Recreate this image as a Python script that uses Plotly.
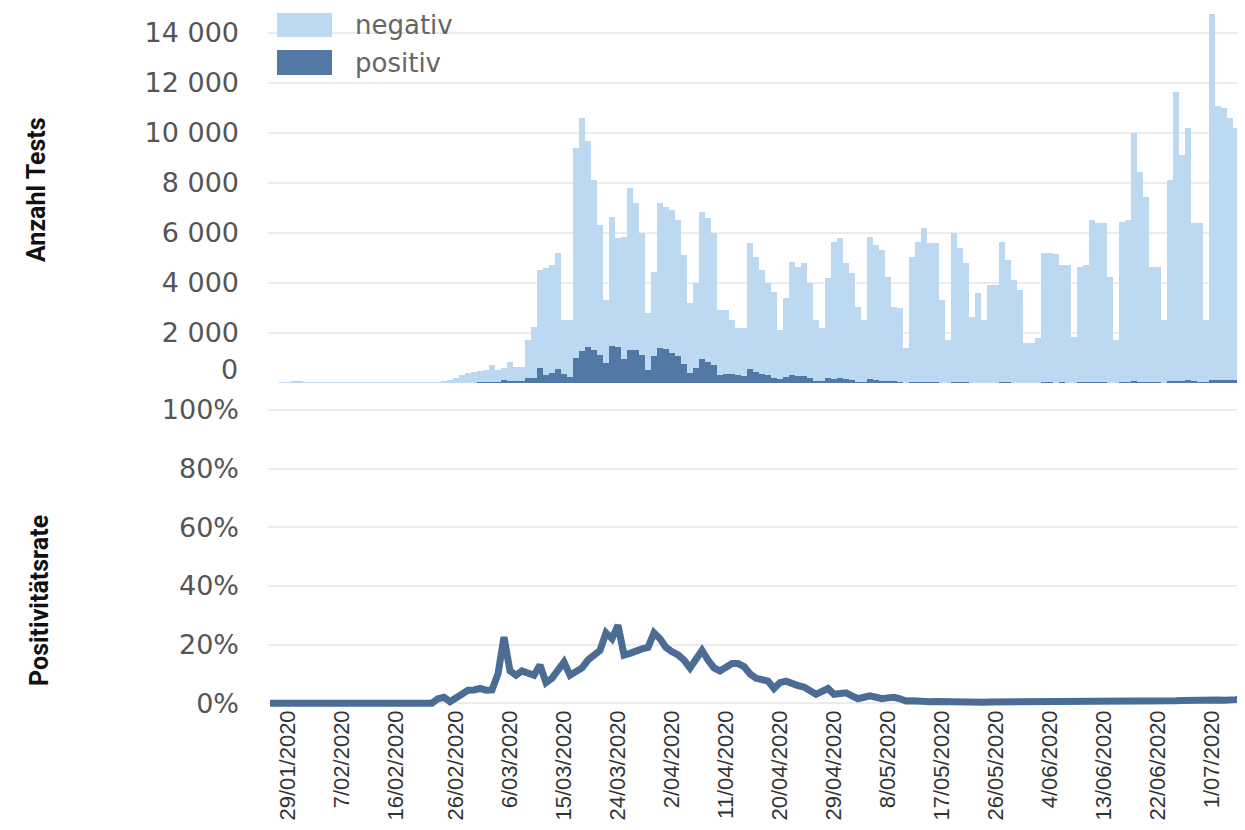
import pandas as pd
import plotly.graph_objects as go

# ---------------- data ----------------
start_date = "2020-01-26"

negativ = [
    0, 0, 5, 10, 40, 60, 30, 20, 10, 15,
    10, 15, 10, 5, 5, 10, 15, 10, 10, 15,
    5, 5, 10, 15, 15, 20, 15, 20, 29, 39,
    119, 196, 291, 363, 401, 456, 478, 688, 450, 450,
    760, 560, 580, 1520, 2040, 3920, 4280, 4300, 4630, 2150,
    2260, 8410, 9330, 8280, 6800, 5170, 2510, 5190, 4350, 4890,
    6470, 5900, 4900, 2270, 3380, 5800, 5710, 5700, 5430, 4350,
    2820, 3400, 5900, 5750, 5280, 2580, 2540, 2160, 1900, 1925,
    5040, 4620, 4140, 3700, 3470, 1950, 3145, 4535, 4370, 4530,
    3820, 2425, 2110, 3990, 5480, 5615, 4630, 4290, 3005, 2450,
    5705, 5390, 5220, 4175, 2990, 2955, 1390, 5010, 5615, 6160,
    5570, 5570, 3285, 1690, 5970, 5375, 4780, 2640, 3585, 2492,
    3885, 3885, 5625, 4880, 4082, 3685, 1595, 1592, 1794, 5180,
    5178, 5132, 4680, 4682, 1842, 4630, 4678, 6470, 6372, 6375,
    4235, 1692, 6415, 6460, 9940, 8400, 7405, 4625, 4620, 2485,
    8030, 11560, 9020, 10100, 6340, 6345, 2480, 14620, 10980, 10890,
    10500, 10100, 5340,
]

positiv = [
    0, 0, 0, 0, 0, 0, 0, 0, 0, 0,
    0, 0, 0, 0, 0, 0, 0, 0, 0, 0,
    0, 0, 0, 0, 0, 0, 0, 0, 1, 1,
    1, 4, 9, 17, 19, 24, 22, 32, 50, 130,
    90, 60, 70, 180, 210, 580, 320, 400, 570, 350,
    240, 990, 1270, 1420, 1300, 1130, 790, 1460, 1450, 960,
    1330, 1300, 1100, 530, 1070, 1400, 1340, 1200, 1070, 750,
    380, 600, 950, 850, 720, 320, 360, 340, 300, 275,
    560, 430, 360, 300, 180, 150, 255, 315, 280, 260,
    180, 75, 90, 210, 170, 185, 170, 110, 45, 50,
    145, 110, 80, 75, 60, 45, 10, 40, 35, 40,
    30, 30, 15, 10, 30, 25, 20, 10, 15, 8,
    15, 15, 25, 20, 18, 15, 5, 8, 6, 20,
    22, 18, 20, 18, 8, 20, 22, 30, 28, 25,
    15, 8, 35, 40, 60, 50, 45, 25, 30, 15,
    70, 90, 80, 100, 60, 55, 20, 130, 120, 110,
    100, 100, 60,
]

rate = [
    0, 0, 0, 0, 0, 0, 0, 0, 0, 0,
    0, 0, 0, 0, 0, 0, 0, 0, 0, 0,
    0, 0, 0, 0, 0, 0, 0, 0, 1.5, 2,
    0.5, 2, 3, 4.4, 4.5, 5, 4.4, 4.5, 10, 22.5,
    11, 9.5, 11, 10.5, 9.5, 13, 7, 8.5, 11, 14,
    9.5, 10.5, 12, 14.7, 16, 18, 24, 22, 26.6, 16.4,
    17, 18, 18.5, 19, 24, 22, 19, 17.5, 16.5, 14.7,
    12, 15, 18, 14.7, 12, 11, 12.5, 13.5, 13.5, 12.5,
    10, 8.5, 8, 7.5, 5, 7, 7.5, 6.5, 6, 5.5,
    4.5, 3, 4, 5, 3, 3.2, 3.5, 2.5, 1.5, 2,
    2.5, 2, 1.5, 1.8, 2, 1.5, 0.7, 0.8, 0.6, 0.6,
    0.5, 0.6, 0.5, 0.6, 0.5, 0.5, 0.4, 0.4, 0.4, 0.3,
    0.4, 0.4, 0.4, 0.4, 0.4, 0.4, 0.3, 0.5, 0.3, 0.4,
    0.4, 0.3, 0.4, 0.4, 0.4, 0.4, 0.5, 0.5, 0.4, 0.4,
    0.4, 0.5, 0.5, 0.6, 0.6, 0.6, 0.6, 0.5, 0.6, 0.6,
    0.8, 0.8, 0.9, 1.0, 0.9, 0.9, 0.8, 0.9, 1.1, 1.0,
    1.0, 1.2, 1.6,
]

tick_dates = ["2020-01-29", "2020-02-07", "2020-02-16", "2020-02-26", "2020-03-06",
              "2020-03-15", "2020-03-24", "2020-04-02", "2020-04-11", "2020-04-20",
              "2020-04-29", "2020-05-08", "2020-05-17", "2020-05-26", "2020-06-04",
              "2020-06-13", "2020-06-22", "2020-07-01"]
tick_labels = ["29/01/2020", "7/02/2020", "16/02/2020", "26/02/2020", "6/03/2020",
               "15/03/2020", "24/03/2020", "2/04/2020", "11/04/2020", "20/04/2020",
               "29/04/2020", "8/05/2020", "17/05/2020", "26/05/2020", "4/06/2020",
               "13/06/2020", "22/06/2020", "1/07/2020"]

count_ticks = [0, 2000, 4000, 6000, 8000, 10000, 12000, 14000]
count_tick_labels = ["", "2 000", "4 000", "6 000", "8 000", "10 000", "12 000", "14 000"]
count_zero_label = "0"
rate_ticks = [0, 20, 40, 60, 80, 100]
rate_tick_labels = ["0%", "20%", "40%", "60%", "80%", "100%"]

dates = pd.date_range(start_date, periods=len(negativ), freq="D")

# ---------------- styles ----------------
LIGHT = "#bcd9f1"
DARK = "#5279a6"
LINE = "#4a6c95"
GRID = "#ececec"
TICK_FONT = dict(family="DejaVu Sans", size=27, color="#555555")
TITLE_FONT = dict(family="Liberation Sans Narrow, Roboto, sans-serif", size=25, color="#111111",
                  weight="bold")

fig = go.Figure()

fig.add_trace(go.Bar(x=dates, y=positiv, name="positiv", marker=dict(color=DARK, line=dict(width=0)),
                     xaxis="x2", yaxis="y2", showlegend=False))
fig.add_trace(go.Bar(x=dates, y=negativ, name="negativ", marker=dict(color=LIGHT, line=dict(width=0)),
                     xaxis="x2", yaxis="y2", showlegend=False))
fig.add_trace(go.Scatter(x=dates, y=rate, mode="lines", line=dict(color=LINE, width=7),
                         xaxis="x", yaxis="y", showlegend=False))

x_range = ["2020-01-25 16:00", "2020-07-06 12:00"]

# page body has an 8px margin, so the figure is 8px smaller and margins shifted accordingly
fig.update_layout(
    template="none",
    width=1237, height=822,
    margin=dict(l=260, r=0, t=2, b=121),
    paper_bgcolor="white", plot_bgcolor="white",
    barmode="stack", bargap=0.08,
    separators=", ",
    xaxis=dict(domain=[0, 1], anchor="y", type="date", range=x_range, automargin=False,
               tickmode="array", tickvals=tick_dates, ticktext=tick_labels,
               tickangle=-90, tickfont=dict(family="Liberation Sans, Arial", size=22, color="#333333"),
               showgrid=False, zeroline=False, showline=False, ticks="", ticklabelstandoff=-4),
    xaxis2=dict(domain=[0, 1], anchor="y2", type="date", matches="x", range=x_range, automargin=False,
                showticklabels=False, showgrid=False, zeroline=False, showline=False, ticks=""),
    yaxis=dict(domain=[0, 0.432], anchor="x", range=[-2, 101], tickmode="array", automargin=False,
               tickvals=rate_ticks, ticktext=rate_tick_labels, tickfont=TICK_FONT,
               showgrid=True, gridcolor=GRID, gridwidth=1.5, zeroline=False, showline=False,
               ticks="", ticklabelstandoff=28),
    yaxis2=dict(domain=[0.4664, 1], anchor="x2", range=[0, 14920], tickmode="array", automargin=False,
                tickvals=count_ticks, ticktext=count_tick_labels, tickfont=TICK_FONT,
                showgrid=True, gridcolor=GRID, gridwidth=1.5, zeroline=False, showline=False,
                ticks="", ticklabelstandoff=28),
)

# the "0" of the count axis sits a little above its gridline in the reference
fig.add_annotation(text=count_zero_label, xref="paper", yref="paper", x=-0.0287, y=0.485,
                   showarrow=False, xanchor="right", yanchor="middle", font=TICK_FONT)

# axis titles
fig.add_annotation(text="Anzahl Tests", xref="paper", yref="paper", x=-0.2364, y=0.7425,
                   textangle=-90, showarrow=False, font=TITLE_FONT, xanchor="center", yanchor="middle")
fig.add_annotation(text="Positivitätsrate", xref="paper", yref="paper", x=-0.2334, y=0.156,
                   textangle=-90, showarrow=False, font=TITLE_FONT, xanchor="center", yanchor="middle")

# legend (drawn)
fig.add_shape(type="rect", xref="paper", yref="paper", x0=0.0092, x1=0.0655, y0=0.9614, y1=0.9957,
              fillcolor=LIGHT, line=dict(width=0))
fig.add_shape(type="rect", xref="paper", yref="paper", x0=0.0092, x1=0.0655, y0=0.907, y1=0.9428,
              fillcolor=DARK, line=dict(width=0))
fig.add_annotation(text="negativ", xref="paper", yref="paper", x=0.087, y=0.9785, showarrow=False,
                   xanchor="left", yanchor="middle", font=dict(family="DejaVu Sans", size=26, color="#666666"))
fig.add_annotation(text="positiv", xref="paper", yref="paper", x=0.087, y=0.924, showarrow=False,
                   xanchor="left", yanchor="middle", font=dict(family="DejaVu Sans", size=26, color="#666666"))

fig.write_html("out.html")
